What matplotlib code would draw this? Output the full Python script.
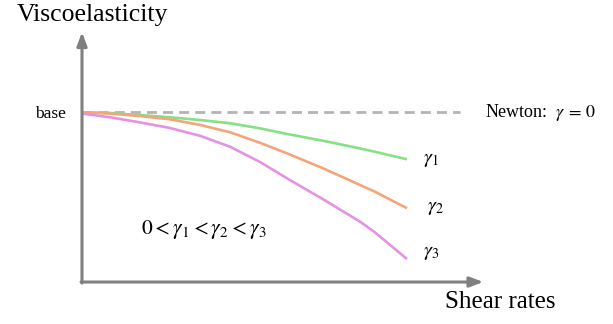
import matplotlib
matplotlib.use("Agg")
import matplotlib.pyplot as plt

plt.rcParams["mathtext.fontset"] = "stix"

# Shear rate samples (arbitrary units) and normalised viscosity per curve
shear = [0.0, 0.862, 1.785, 2.708, 3.631, 4.554, 5.477, 6.308, 7.415,
         8.554, 9.015, 10.0]
visc_g1 = [0.998, 0.994, 0.982, 0.969, 0.953, 0.934, 0.904, 0.871, 0.831,
           0.786, 0.766, 0.722]
visc_g2 = [0.998, 0.991, 0.976, 0.957, 0.924, 0.881, 0.819, 0.757, 0.669,
           0.571, 0.531, 0.434]
visc_g3 = [0.991, 0.969, 0.939, 0.906, 0.860, 0.796, 0.706, 0.610, 0.487,
           0.355, 0.292, 0.135]
base_level = 1.0
newton_end = 11.63

curve_labels = [r"$\gamma_1$", r"$\gamma_2$", r"$\gamma_3$"]
curve_colors = ["#86e086", "#f4a57a", "#e593e0"]

fig = plt.figure(figsize=(6.13, 3.24), dpi=100)
ax = fig.add_axes([0, 0, 1, 1])
ax.set_xlim(-2.523, 16.338)
ax.set_ylim(-0.247, 1.659)
ax.axis("off")

axis_col = "#808080"
# axes with arrowheads
ax.annotate("", xy=(0, 1.47), xytext=(0, -0.006),
            arrowprops=dict(arrowstyle="-|>,head_length=0.8,head_width=0.3",
                            color=axis_col, lw=2.2, shrinkA=0, shrinkB=0))
ax.annotate("", xy=(12.35, 0), xytext=(-0.03, 0),
            arrowprops=dict(arrowstyle="-|>,head_length=0.8,head_width=0.3",
                            color=axis_col, lw=2.2, shrinkA=0, shrinkB=0))

# Newtonian reference
ax.plot([0, newton_end], [base_level, base_level], color="#b4b4b4", lw=2.0,
        dashes=(3.6, 2.2))

for v, c in zip([visc_g1, visc_g2, visc_g3], curve_colors):
    ax.plot(shear, v, color=c, lw=1.9, solid_joinstyle="round",
            solid_capstyle="butt")

serif = "Liberation Serif"
ax.text(-2.0, 1.572, "Viscoelasticity", fontsize=18.5, family=serif,
        ha="left", va="center")
ax.text(11.17, -0.118, "Shear rates", fontsize=18, family=serif,
        ha="left", va="center")
ax.text(-0.48, base_level - 0.01, "base", fontsize=12.5, family=serif,
        ha="right", va="center")
ax.text(12.4, base_level, r"Newton:  $\gamma\, =\, 0$", fontsize=13, family=serif,
        ha="left", va="center")

label_x = [10.5, 10.62, 10.5]
label_y = [0.718, 0.441, 0.171]
for lx, ly, lab in zip(label_x, label_y, curve_labels):
    ax.text(lx, ly, lab, fontsize=14.5, ha="left", va="center")

ax.text(1.83, 0.306, r"$0 < \gamma_1 < \gamma_2 < \gamma_3$", fontsize=15.5,
        ha="left", va="center")

fig.savefig("out.png", dpi=100)
